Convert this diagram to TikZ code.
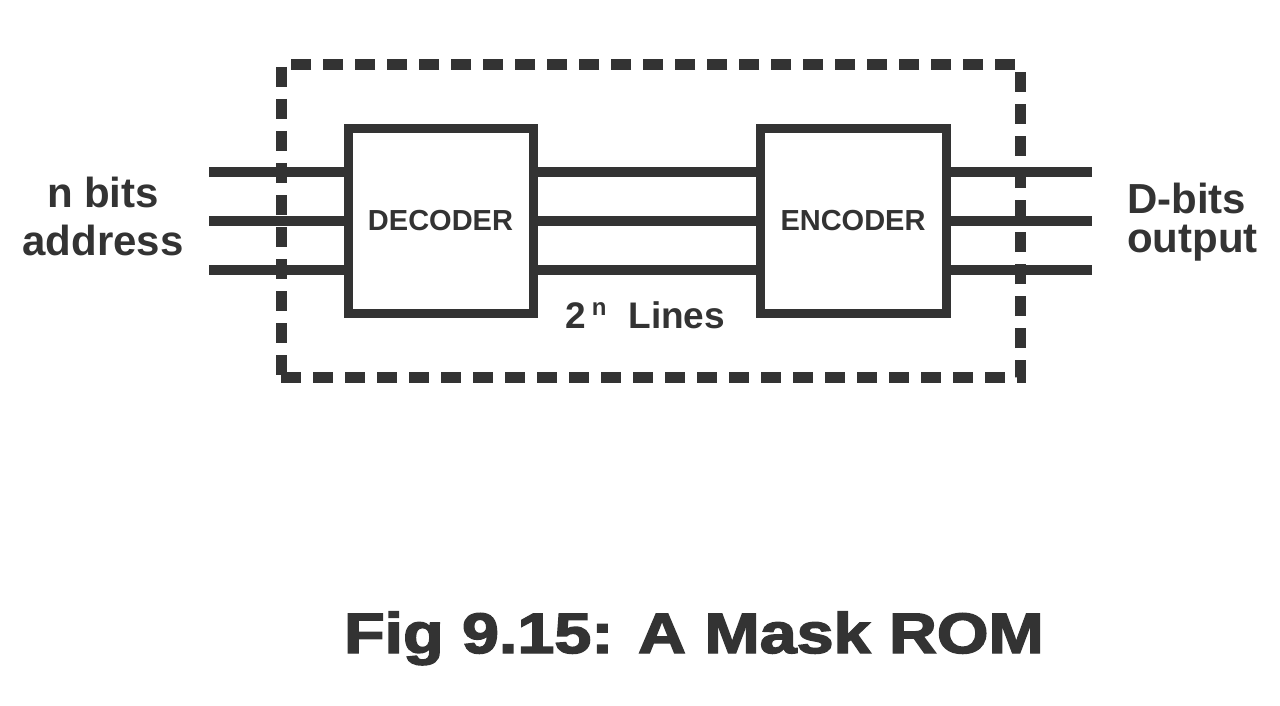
\documentclass[tikz,border=0pt]{standalone}
\usepackage{fontspec}
\setmainfont{Liberation Sans}
\newfontfamily\heavyfont{Liberation Sans}[BoldFeatures={FakeBold=2.5}]
\usepackage{graphicx}
\usetikzlibrary{positioning,calc}
\definecolor{ink}{HTML}{333333}

\begin{document}
\begin{tikzpicture}[x=1pt,y=-1pt,
  font=\bfseries, color=ink,
  bx/.style={draw=ink,line width=9pt,minimum height=184pt,inner sep=0pt,
             font=\fontsize{29}{32}\selectfont\bfseries},
  romb/.style={draw=ink,line width=11pt,dash pattern=on 20pt off 12pt,
               minimum width=739pt,minimum height=312pt,inner sep=0pt},
  wr/.style={draw=ink,line width=9.5pt},
  lbl/.style={inner sep=0pt,font=\fontsize{42}{48}\selectfont\bfseries}]
\useasboundingbox[fill=white] (0,0) rectangle (1280,706);
\node[romb] (rom) at (650.5,221) {};
\node[bx,minimum width=185pt] (dec) at (440.5,221) {DECODER};
\node[bx,minimum width=186pt] (enc) at (853,221) {ENCODER};
\foreach \y [count=\i] in {172,221,270} {
  \coordinate (in\i) at (209,\y);
  \coordinate (out\i) at (1092,\y);
  \draw[wr] (in\i) -- (in\i -| dec.west);
  \draw[wr] (in\i -| dec.east) -- (in\i -| enc.west);
  \draw[wr] (in\i -| enc.east) -- (out\i);
}
% base of a two-line node is the baseline of its last line
\node[lbl,align=center,anchor=base] (addr) at (103,255) {n bits\\address};
\node[lbl,align=left,anchor=base west,font=\fontsize{42}{39}\selectfont\bfseries]
  (dout) at (1127,252) {D-bits\\output};
\node[inner sep=0pt,anchor=base west,font=\fontsize{37}{40}\selectfont\bfseries]
  (nl) at (565,328)
  {2\hspace{6pt}\raisebox{13pt}{\fontsize{24}{24}\selectfont n}\hspace{22pt}Lines};
\node[inner sep=0pt,anchor=base,font=\fontsize{57}{60}\selectfont\heavyfont\bfseries]
  (cap) at (694,653) {\scalebox{1.165}[1]{Fig 9.15: A Mask ROM}};
\end{tikzpicture}
\end{document}
